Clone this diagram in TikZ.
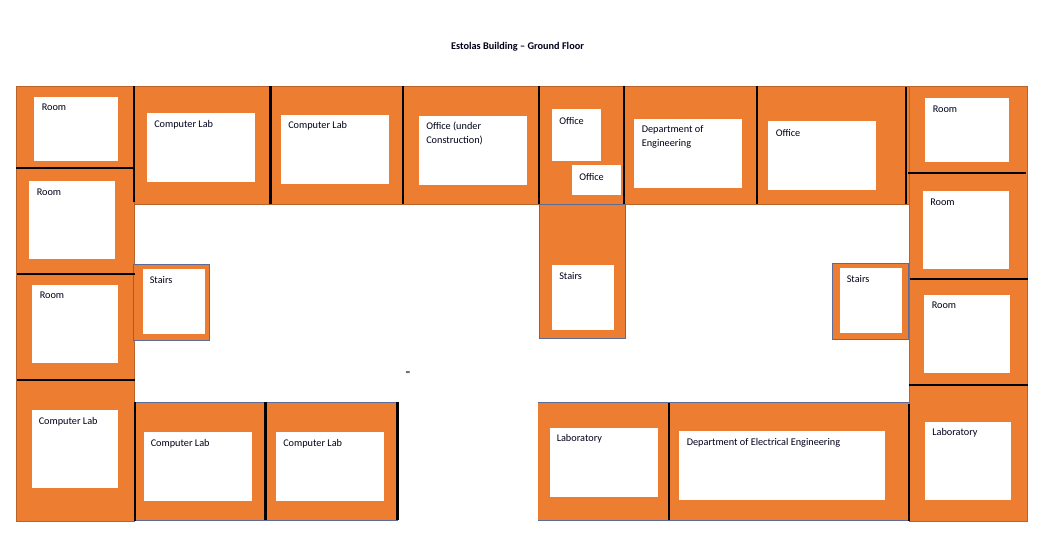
\documentclass[tikz,border=0pt]{standalone}
\usepackage{fontspec}
\setmainfont{Carlito}

\tikzset{
  wing/.style={fill=wingorange, draw=wingedge, line width=0.5pt},
  stairwing/.style={fill=wingorange, draw=stairedge, line width=0.7pt},
  roomwhite/.style={fill=white},
  divider/.style={draw=black, line width=1.7pt},
  rulerow/.style={draw=stairedge, line width=0.7pt},
  roomtext/.style={anchor=west, inner sep=0pt, align=left, text=black!90!blue, yshift=-0.75pt,
    font=\fontsize{7.7}{10.5}\selectfont}
}
\definecolor{wingorange}{HTML}{ED7D31}
\definecolor{wingedge}{HTML}{B8632A}
\definecolor{stairedge}{HTML}{5B6C9A}

\begin{document}
\begin{tikzpicture}[x=0.75pt,y=-0.75pt]
  \useasboundingbox (0,0) rectangle (1051,548);
  \node[roomtext, anchor=center, font=\fontsize{7.7}{10.5}\selectfont\bfseries] (title) at (517.5,45.5) {Estolas Building -- Ground Floor};

  % wings
  \path[wing] (16,86) rectangle (134,521);
  \path[wing] (134,86) rectangle (909,204.5);
  \path[wing] (909,86) rectangle (1027.5,521);
  \fill[wingorange] (135,402) rectangle (398,520.5);
  \fill[wingorange] (538,402) rectangle (909,520.5);
  \path[rulerow] (135,402) -- (398,402);
  \path[rulerow] (135,520.5) -- (398,520.5);
  \path[rulerow] (538,402) -- (909,402);
  \path[rulerow] (538,520.5) -- (909,520.5);

  % stairs
  \path[stairwing] (133.5,264.5) rectangle (209,340);
  \path[stairwing] (539.5,204.5) rectangle (625.5,338);
  \path[stairwing] (832,263) rectangle (908,339);

  % walls
  \path[divider] (16,168) -- (133,168);
  \path[divider] (17,274) -- (135,274);
  \path[divider] (17,380) -- (135,380);
  \path[divider] (134,86) -- (134,202);
  \path[divider] (270.5,86) -- (270.5,204);
  \path[divider] (403,86) -- (403,204);
  \path[divider] (539,86) -- (539,204);
  \path[divider] (624,86) -- (624,204);
  \path[divider] (757,86) -- (757,204);
  \path[divider] (906,87) -- (906,204);
  \path[divider] (908,173) -- (1026,173);
  \path[divider] (910,279) -- (1028,279);
  \path[divider] (909,385) -- (1028,385);
  \path[divider] (135,402) -- (135,521);
  \path[divider] (265.5,402) -- (265.5,520);
  \path[divider] (397.5,402) -- (397.5,520);
  \path[divider] (669,403) -- (669,520);
  \path[divider] (909,404) -- (909,521);

  % white room boxes
  \path[roomwhite] (34,97) rectangle (118,161);
  \path[roomwhite] (29,181) rectangle (115,259);
  \path[roomwhite] (32,285) rectangle (118,363);
  \path[roomwhite] (32,410) rectangle (118,488);
  \path[roomwhite] (147,113) rectangle (255,182);
  \path[roomwhite] (281,115) rectangle (389,184);
  \path[roomwhite] (419,116) rectangle (527,185);
  \path[roomwhite] (552,109) rectangle (601,161);
  \path[roomwhite] (572,165) rectangle (621,195);
  \path[roomwhite] (634,119) rectangle (742,188);
  \path[roomwhite] (768,121) rectangle (876,190);
  \path[roomwhite] (925,98) rectangle (1009,162);
  \path[roomwhite] (923,191) rectangle (1009,269);
  \path[roomwhite] (924,295) rectangle (1010,373);
  \path[roomwhite] (925,422) rectangle (1011,500);
  \path[roomwhite] (144,432) rectangle (252,501);
  \path[roomwhite] (276,432) rectangle (384,501);
  \path[roomwhite] (550,428) rectangle (658,497);
  \path[roomwhite] (679,431) rectangle (885,500);
  \path[roomwhite] (143,269) rectangle (205,334);
  \path[roomwhite] (552,265) rectangle (614,330);
  \path[roomwhite] (840,268) rectangle (902,333);

  % labels
  \node[roomtext] (roomA) at (41.5,106.5) {Room};
  \node[roomtext] (roomB) at (36.5,191.5) {Room};
  \node[roomtext] (roomC) at (39.5,294.5) {Room};
  \node[roomtext] (labA)  at (38.5,421) {Computer Lab};
  \node[roomtext] (labB)  at (154,123.5) {Computer Lab};
  \node[roomtext] (labC)  at (288,124.5) {Computer Lab};
  \node[roomtext] (offA)  at (426,132.5) {Office (under\\Construction)};
  \node[roomtext] (offB)  at (559,119.5) {Office};
  \node[roomtext] (offC)  at (579,175.5) {Office};
  \node[roomtext] (deptA) at (641.5,135.5) {Department of\\Engineering};
  \node[roomtext] (offD)  at (775.5,131.5) {Office};
  \node[roomtext] (roomD) at (932.5,108.5) {Room};
  \node[roomtext] (roomE) at (930,201.5) {Room};
  \node[roomtext] (roomF) at (931.5,304.5) {Room};
  \node[roomtext] (labD)  at (932,431.5) {Laboratory};
  \node[roomtext] (labE)  at (150.5,442.5) {Computer Lab};
  \node[roomtext] (labF)  at (283,442.5) {Computer Lab};
  \node[roomtext] (labG)  at (556.5,437.5) {Laboratory};
  \node[roomtext] (deptB) at (686.5,441.5) {Department of Electrical Engineering};
  \node[roomtext] (stA)   at (149.5,279.5) {Stairs};
  \node[roomtext] (stB)   at (559,275.5) {Stairs};
  \node[roomtext] (stC)   at (846.5,278.5) {Stairs};
  \node[roomtext, anchor=center, font=\fontsize{7}{8}\selectfont] (mark) at (408,372.5) {=};
\end{tikzpicture}
\end{document}
